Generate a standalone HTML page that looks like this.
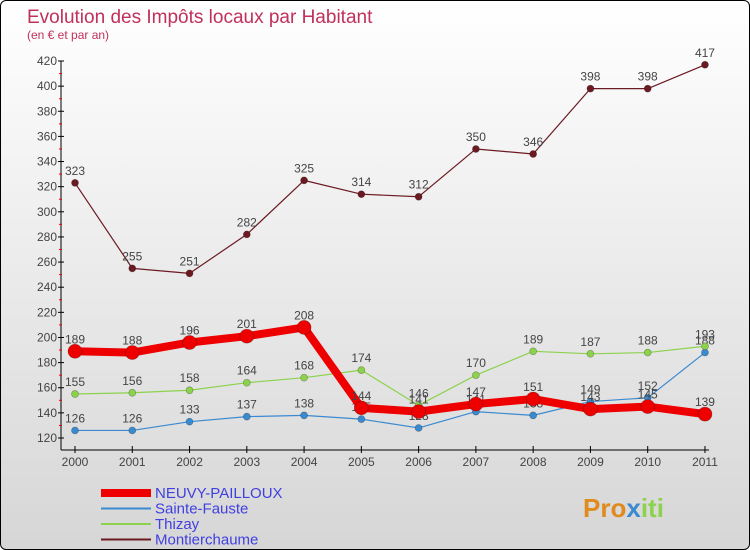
<!DOCTYPE html>
<html><head><meta charset="utf-8"><style>
body{margin:0}
#c{width:748px;height:548px;border:1px solid #000;border-radius:6px;overflow:hidden;background:linear-gradient(#fff,#d6d6d6);position:relative;font-family:"Liberation Sans",sans-serif}
</style></head><body>
<div id="c">
<svg id="s" width="748" height="548"></svg>
</div>
<script>
const years=[2000,2001,2002,2003,2004,2005,2006,2007,2008,2009,2010,2011];
const yTicks=[120,140,160,180,200,220,240,260,280,300,320,340,360,380,400,420];
const montierchaume=[323,255,251,282,325,314,312,350,346,398,398,417];
const neuvy=[189,188,196,201,208,144,141,147,151,143,145,139];
const thizay=[155,156,158,164,168,174,146,170,189,187,188,193];
const sainteFauste=[126,126,133,137,138,135,128,141,138,149,152,188];
const NS='http://www.w3.org/2000/svg';
const s=document.getElementById('s');
const X=i=>74+i*57.27;
const Y=v=>437-(v-120)*(377/300);
function el(t,a,txt,p){const e=document.createElementNS(NS,t);for(const k in a)e.setAttribute(k,a[k]);if(txt!=null)e.textContent=txt;(p||s).appendChild(e);return e;}
let t=el('text',{x:26,y:22,fill:'#c0305a','font-size':19});t.textContent='Evolution des Impôts locaux par Habitant';

t=el('text',{x:26,y:38,fill:'#c0305a','font-size':12},'(en € et par an)');

// axes
let ax=el('line',{x1:60,y1:Y(420),x2:60,y2:449,stroke:'#000'});

ax=el('line',{x1:60,y1:449,x2:X(11)+4,y2:449,stroke:'#000'});

yTicks.forEach(v=>{el('line',{x1:57,x2:63,y1:Y(v),y2:Y(v),stroke:'#000'});
 if(v<420)el('line',{x1:58,x2:61,y1:Y(v+10),y2:Y(v+10),stroke:'#e00'});
 const l=el('text',{x:56,y:Y(v)+4,'text-anchor':'end','font-size':12,fill:'#444'},v);
 });
years.forEach((y,i)=>{el('line',{x1:X(i),x2:X(i),y1:445,y2:452,stroke:'#000'});
 const l=el('text',{x:X(i),y:465,'text-anchor':'middle','font-size':12,fill:'#444'},y);
 });
function series(d,col,w,r,name){
 const g=el('g',{});
 el('polyline',{points:d.map((v,i)=>X(i)+','+Y(v)).join(' '),fill:'none',stroke:col,'stroke-width':w,'stroke-linejoin':'round'},null,g);
 d.forEach((v,i)=>{const c=el('circle',{cx:X(i),cy:Y(v),r:r,fill:col,stroke:'rgba(0,0,0,0.3)','stroke-width':0.7},null,g);
  
  el('text',{x:X(i),y:Y(v)-8,'text-anchor':'middle','font-size':12,fill:'#444'},v,g);});
}
series(montierchaume,'#6b1a22',1.2,3.5,'montierchaume');
series(sainteFauste,'#3a8ad0',1.2,3.5,'sainte-fauste');
series(thizay,'#8cd24c',1.2,3.5,'thizay');
series(neuvy,'#ee0000',8,7,'neuvy-pailloux');
// legend
const leg=[['NEUVY-PAILLOUX','#ee0000',8],['Sainte-Fauste','#3a8ad0',2],['Thizay','#8cd24c',2],['Montierchaume','#6b1a22',2]];
leg.forEach((e,i)=>{const g=el('g',{});
 const y=492+i*15.5;el('line',{x1:100,x2:150,y1:y,y2:y,stroke:e[1],'stroke-width':e[2]},null,g);
 el('text',{x:154,y:y+5,'font-size':15,fill:'#4040e0'},e[0],g);});
const lg=el('text',{x:582,y:516,'font-size':26,'font-weight':'bold',fill:'#e08a20'},'Pro');

el('tspan',{fill:'#3a8ad0'},'x',lg);el('tspan',{fill:'#8cd24c'},'iti',lg);
</script>
</body></html>
